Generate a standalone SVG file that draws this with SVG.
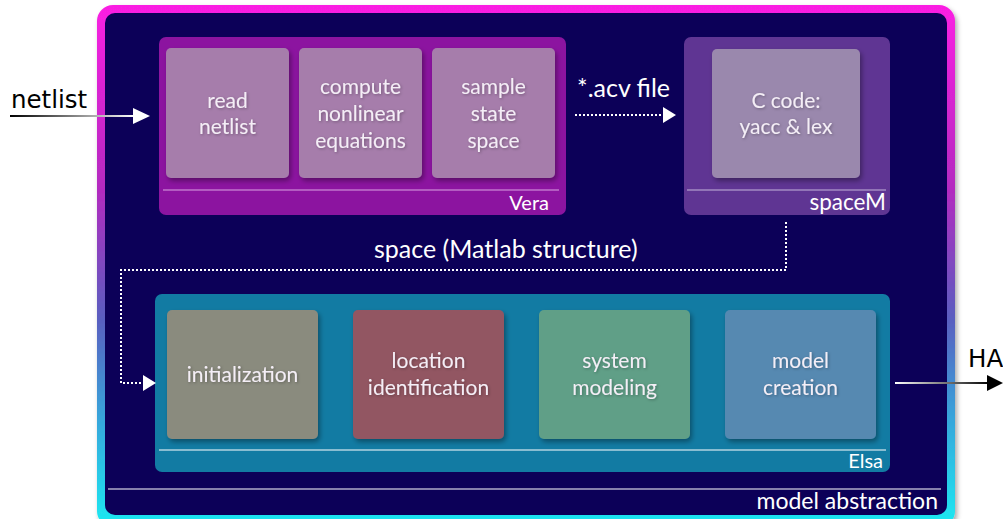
<svg xmlns="http://www.w3.org/2000/svg" width="1003" height="519" viewBox="0 0 1003 519">
  <defs>
    <linearGradient id="frameGrad" x1="0" y1="0" x2="0" y2="1">
      <stop offset="0" stop-color="#fb1fe3"/>
      <stop offset="0.35" stop-color="#b42ac0"/>
      <stop offset="0.6" stop-color="#5a5ec0"/>
      <stop offset="0.8" stop-color="#36a8dc"/>
      <stop offset="1" stop-color="#1ceaf2"/>
    </linearGradient>
    <linearGradient id="inGrad" gradientUnits="userSpaceOnUse" x1="10" y1="0" x2="135" y2="0">
      <stop offset="0" stop-color="#000"/>
      <stop offset="1" stop-color="#fff"/>
    </linearGradient>
    <linearGradient id="outGrad" gradientUnits="userSpaceOnUse" x1="895" y1="0" x2="990" y2="0">
      <stop offset="0" stop-color="#fff"/>
      <stop offset="1" stop-color="#000"/>
    </linearGradient>
    <filter id="shadow" x="-10%" y="-10%" width="125%" height="125%">
      <feDropShadow dx="2" dy="3" stdDeviation="2.5" flood-color="#000" flood-opacity="0.35"/>
    </filter>
    <filter id="glow" x="-10%" y="-20%" width="120%" height="140%">
      <feDropShadow dx="1" dy="1" stdDeviation="1.5" flood-color="#000" flood-opacity="0.3"/>
    </filter>
  </defs>
  <style>
    .lbl { font-family: Lato, "Open Sans", sans-serif; fill: #f4eef6; text-anchor: middle; }
    .box { font-size: 21px; }
    .tag { font-family: Lato, "Open Sans", sans-serif; fill: #ffffff; font-size: 20px; text-anchor: end; }
    .flow { font-family: Lato, "Open Sans", sans-serif; fill: #ffffff; font-size: 25px; }
    .rule { stroke-width: 1.2; }
    .dot { fill: none; stroke: #fff; stroke-width: 2; stroke-dasharray: 2 2; }
    .ext { font-family: "DejaVu Sans", sans-serif; fill: #000; font-size: 24.5px; }
  </style>

  <!-- outer frame: model abstraction -->
  <g id="modelAbstraction">
    <rect x="97" y="5" width="858" height="522" rx="16" fill="url(#frameGrad)" filter="url(#shadow)"/>
    <rect x="105" y="13" width="842" height="502" rx="10" fill="#0c0058"/>
    <line x1="108" y1="489" x2="941" y2="489" stroke="#ffffff" class="rule"/>
    <text x="938" y="509" class="tag" style="font-size:23px">model abstraction</text>
  </g>

  <!-- Vera -->
  <g id="vera">
    <rect x="159" y="37" width="407" height="178" rx="7" fill="#8c14a0"/>
    <line x1="163" y1="190" x2="559" y2="190" stroke="#d9a4e2" class="rule"/>
    <text x="549" y="210" class="tag">Vera</text>
    <g id="readNetlist">
      <rect x="166" y="48" width="123" height="130" rx="5" fill="#a67dab" filter="url(#shadow)"/>
      <text class="lbl box" x="227.5" y="108" filter="url(#glow)">read</text>
      <text class="lbl box" x="227.5" y="134" filter="url(#glow)">netlist</text>
    </g>
    <g id="computeEquations">
      <rect x="299" y="48" width="123" height="130" rx="5" fill="#a67dab" filter="url(#shadow)"/>
      <text class="lbl box" x="360.5" y="94" filter="url(#glow)">compute</text>
      <text class="lbl box" x="360.5" y="121" filter="url(#glow)">nonlinear</text>
      <text class="lbl box" x="360.5" y="148" filter="url(#glow)">equations</text>
    </g>
    <g id="sampleStateSpace">
      <rect x="432" y="48" width="123" height="130" rx="5" fill="#a67dab" filter="url(#shadow)"/>
      <text class="lbl box" x="493.5" y="94" filter="url(#glow)">sample</text>
      <text class="lbl box" x="493.5" y="121" filter="url(#glow)">state</text>
      <text class="lbl box" x="493.5" y="148" filter="url(#glow)">space</text>
    </g>
  </g>

  <!-- spaceM -->
  <g id="spaceM">
    <rect x="684" y="37" width="206" height="178" rx="7" fill="#5f3593"/>
    <line x1="687" y1="190" x2="886" y2="190" stroke="#c6b6dc" class="rule"/>
    <text x="886" y="210" class="tag" style="font-size:22.5px">spaceM</text>
    <g id="cCode">
      <rect x="712" y="49" width="148" height="129" rx="5" fill="#9a88ad" filter="url(#shadow)"/>
      <text class="lbl box" x="786" y="108" filter="url(#glow)">C code:</text>
      <text class="lbl box" x="786" y="134" filter="url(#glow)">yacc &amp; lex</text>
    </g>
  </g>

  <!-- Elsa -->
  <g id="elsa">
    <rect x="155" y="294" width="735" height="178" rx="7" fill="#127ba3"/>
    <line x1="159" y1="450" x2="886" y2="450" stroke="#ffffff" class="rule"/>
    <text x="883" y="468" class="tag">Elsa</text>
    <g id="initialization">
      <rect x="167" y="310" width="151" height="129" rx="5" fill="#8a8b7e" filter="url(#shadow)"/>
      <text class="lbl box" x="242.5" y="382" filter="url(#glow)">initialization</text>
    </g>
    <g id="locationIdentification">
      <rect x="353" y="310" width="151" height="129" rx="5" fill="#925662" filter="url(#shadow)"/>
      <text class="lbl box" x="428.5" y="368" filter="url(#glow)">location</text>
      <text class="lbl box" x="428.5" y="395" filter="url(#glow)">identification</text>
    </g>
    <g id="systemModeling">
      <rect x="539" y="310" width="151" height="129" rx="5" fill="#619f87" filter="url(#shadow)"/>
      <text class="lbl box" x="614.5" y="368" filter="url(#glow)">system</text>
      <text class="lbl box" x="614.5" y="395" filter="url(#glow)">modeling</text>
    </g>
    <g id="modelCreation">
      <rect x="725" y="310" width="151" height="129" rx="5" fill="#5689b1" filter="url(#shadow)"/>
      <text class="lbl box" x="800.5" y="368" filter="url(#glow)">model</text>
      <text class="lbl box" x="800.5" y="395" filter="url(#glow)">creation</text>
    </g>
  </g>

  <!-- connectors -->
  <g id="connectors">
    <!-- netlist input -->
    <line x1="10" y1="116" x2="135" y2="116" stroke="url(#inGrad)" stroke-width="2"/>
    <path d="M133,108 L150,116 L133,124 Z" fill="#fff"/>
    <text x="11" y="108" class="ext">netlist</text>
    <!-- Vera to spaceM -->
    <line x1="575" y1="115" x2="663" y2="115" class="dot"/>
    <path d="M663,107 L676,115 L663,123 Z" fill="#fff"/>
    <text x="577" y="97" class="flow">*.acv file</text>
    <!-- spaceM to Elsa -->
    <path d="M786,222 L786,270 L121,270 L121,383 L143,383" class="dot"/>
    <path d="M143,375 L156,383 L143,391 Z" fill="#fff"/>
    <text x="374" y="258" class="flow">space (Matlab structure)</text>
    <!-- HA output -->
    <line x1="895" y1="383" x2="990" y2="383" stroke="url(#outGrad)" stroke-width="2"/>
    <path d="M987,375 L1003,383 L987,391 Z" fill="#000"/>
    <text x="968" y="367" class="ext">HA</text>
  </g>
</svg>
